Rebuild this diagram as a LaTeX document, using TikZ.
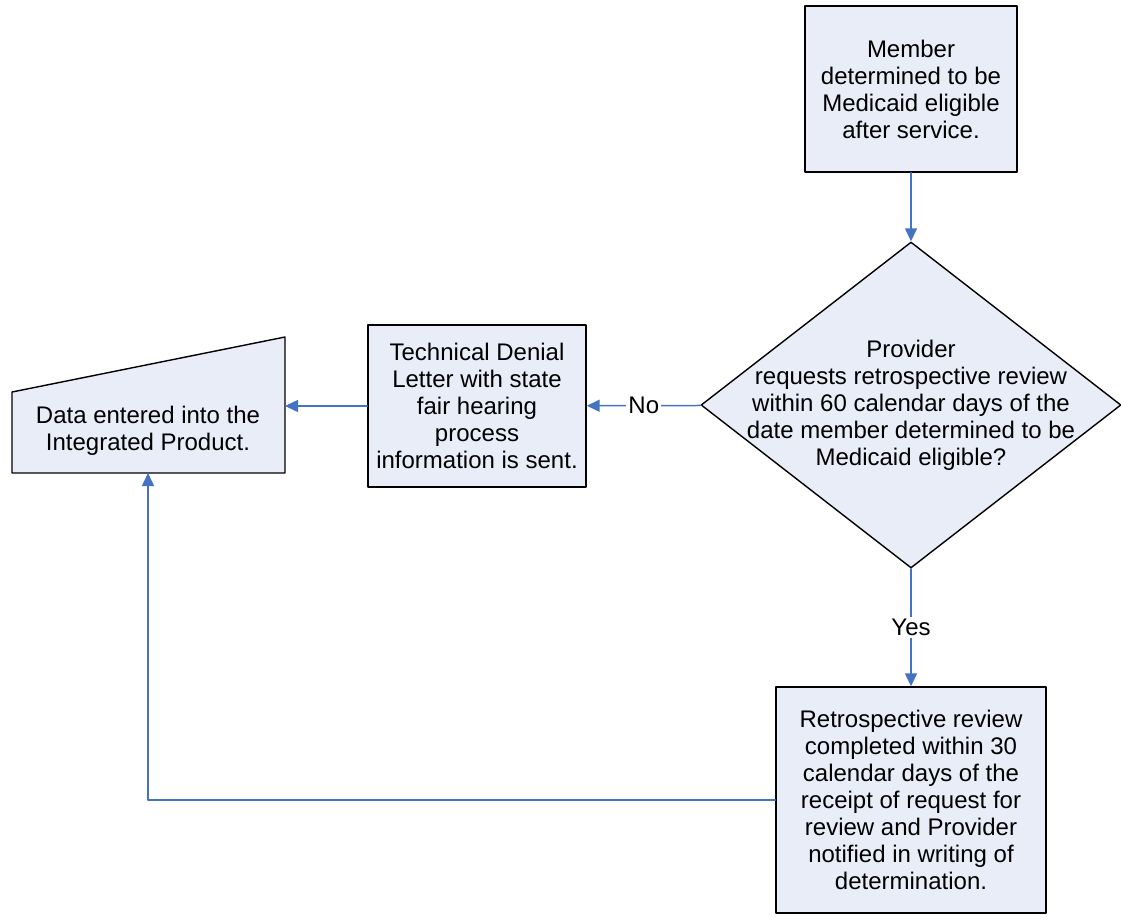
\documentclass[tikz,border=0pt]{standalone}
\usepackage{fontspec}
\setmainfont{Liberation Sans}
\usetikzlibrary{arrows.meta,shapes.geometric}
\definecolor{eyeefx}{rgb}{0.91,0.93,0.97}
\definecolor{uuxscu}{rgb}{0.27,0.45,0.77}
\tikzset{
  stepbox/.style={draw=black,line width=1.4pt,fill=eyeefx,align=center,inner sep=0pt},
  flow/.style={->,color=uuxscu,line width=1.5pt},
  answer/.style={fill=white,inner sep=2pt,text=black}
}

\begin{document}
\begin{tikzpicture}[line cap=round,line join=round,>={Triangle[length=13pt,width=12pt]},x=1pt,y=-1pt,font=\fontsize{24}{27}\selectfont]
	\useasboundingbox (0,0) rectangle (1121,919);
	\node[stepbox,minimum width=212pt,minimum height=166pt] (member) at (911,89) {Member\\determined to be\\Medicaid eligible\\after service.};
	\node[stepbox,shape=diamond,minimum width=420pt,minimum height=326pt] (ask) at (911,405) {};
	\node[align=center] (asktext) at (911,405) {Provider\\requests retrospective review\\within 60 calendar days of the\\date member determined to be\\Medicaid eligible?};
	\node[stepbox,minimum width=218pt,minimum height=162pt] (denial) at (477,406) {Technical Denial\\Letter with state\\fair hearing\\process\\information is sent.};
	\node[stepbox,minimum width=270pt,minimum height=226pt] (review) at (911,800) {Retrospective review\\completed within 30\\calendar days of the\\receipt of request for\\review and Provider\\notified in writing of\\determination.};
	% manual input
	\draw[line width=1.4pt,fill=eyeefx] (12,392) -- (285,337) -- (285,473) -- (12,473) -- cycle;
	\coordinate (dataR) at (285,406);
	\coordinate (dataB) at (148,473);
	\node[align=center] (data) at (148,431) {Data entered into the\\Integrated Product.};
	\draw[flow] (member) -- (ask);
	\draw[flow] (ask) -- node[answer] {No} (denial);
	\draw[flow] (denial) -- (dataR);
	\draw[flow] (ask) -- node[answer] {Yes} (review);
	\draw[flow] (review.west) -| (dataB);
\end{tikzpicture}
\end{document}
